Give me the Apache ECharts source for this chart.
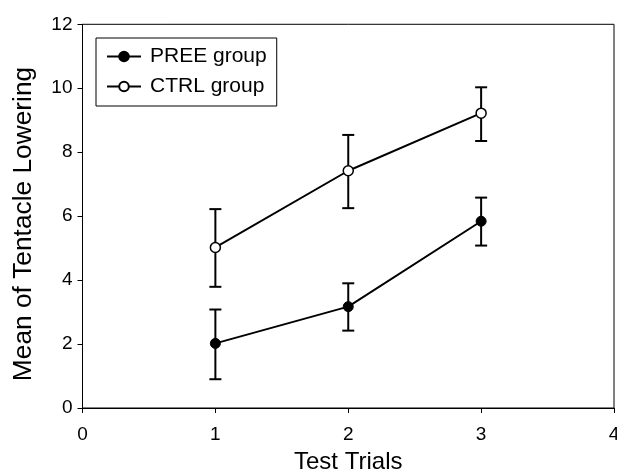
<!DOCTYPE html>
<html><head><meta charset="utf-8">
<script src="https://cdn.jsdelivr.net/npm/echarts@6/dist/echarts.min.js"></script>
<style>html,body{margin:0;padding:0;background:#fff}#c{width:617px;height:471px}</style>
</head><body><div id="c"></div>
<script>
const trials = [1, 2, 3];
const preeMean = [2.02, 3.17, 5.84];
const preeLower = [0.90, 2.42, 5.08];
const preeUpper = [3.08, 3.90, 6.58];
const ctrlMean = [5.02, 7.42, 9.22];
const ctrlLower = [3.79, 6.25, 8.35];
const ctrlUpper = [6.22, 8.54, 10.03];
const seriesNames = ['PREE group', 'CTRL group'];
const xTitle = 'Test Trials';
const yTitle = 'Mean of Tentacle Lowering';

const FONT = '"Liberation Sans", Arial, Helvetica, sans-serif';

function errData(lo, hi) { return trials.map((t, i) => [t, lo[i], hi[i]]); }
function errSeries(lo, hi) {
  return {
    type: 'custom', z: 1, silent: true,
    data: errData(lo, hi),
    encode: { x: 0, y: [1, 2] },
    renderItem: function (params, api) {
      const x = api.value(0);
      const p1 = api.coord([x, api.value(1)]);
      const p2 = api.coord([x, api.value(2)]);
      const w = 6;
      const st = { stroke: '#000', lineWidth: 2 };
      return { type: 'group', children: [
        { type: 'line', shape: { x1: p1[0], y1: p1[1], x2: p2[0], y2: p2[1] }, style: st },
        { type: 'line', shape: { x1: p1[0] - w, y1: p1[1], x2: p1[0] + w, y2: p1[1] }, style: st },
        { type: 'line', shape: { x1: p2[0] - w, y1: p2[1], x2: p2[0] + w, y2: p2[1] }, style: st }
      ]};
    }
  };
}

const chart = echarts.init(document.getElementById('c'), null, { renderer: 'canvas' });
chart.setOption({
  animation: false,
  backgroundColor: '#fff',
  textStyle: { fontFamily: FONT },
  grid: { left: 82.5, right: 3, top: 24.3, bottom: 63, containLabel: false, outerBoundsMode: 'none',
          show: true, borderColor: '#000', borderWidth: 1, backgroundColor: 'transparent' },
  legend: {
    orient: 'vertical', left: 96, top: 38,
    borderColor: '#000', borderWidth: 1, padding: [8, 10, 9, 10],
    itemWidth: 34, itemHeight: 12, itemGap: 9,
    textStyle: { fontSize: 21, color: '#000', fontFamily: FONT, padding: [0, 0, 0, 4] },
    data: seriesNames
  },
  xAxis: {
    type: 'value', min: 0, max: 4, interval: 1,
    name: xTitle, nameLocation: 'middle', nameGap: 42,
    nameTextStyle: { fontSize: 24, color: '#000', fontFamily: FONT },
    axisLine: { lineStyle: { color: '#000', width: 1 } },
    axisTick: { show: true, length: 5, lineStyle: { color: '#000' } },
    axisLabel: { fontSize: 19, color: '#000', margin: 17, fontFamily: FONT },
    splitLine: { show: false }
  },
  yAxis: {
    type: 'value', min: 0, max: 12, interval: 2,
    axisLine: { show: true, lineStyle: { color: '#000', width: 1 } },
    axisTick: { show: true, length: 5, lineStyle: { color: '#000' } },
    axisLabel: { fontSize: 19, color: '#000', margin: 10, fontFamily: FONT },
    splitLine: { show: false }
  },
  graphic: [{
    type: 'text', x: 24, y: 224, rotation: Math.PI / 2,
    style: { text: yTitle, font: '26.3px ' + FONT, fill: '#000', textAlign: 'center', textVerticalAlign: 'middle' }
  }],
  series: [
    errSeries(preeLower, preeUpper),
    errSeries(ctrlLower, ctrlUpper),
    {
      name: seriesNames[0], type: 'line', z: 3,
      data: trials.map((t, i) => [t, preeMean[i]]),
      symbol: 'circle', symbolSize: 10,
      itemStyle: { color: '#000', borderColor: '#000', borderWidth: 1 },
      lineStyle: { color: '#000', width: 2 }
    },
    {
      name: seriesNames[1], type: 'line', z: 3,
      data: trials.map((t, i) => [t, ctrlMean[i]]),
      symbol: 'circle', symbolSize: 10,
      itemStyle: { color: '#fff', borderColor: '#000', borderWidth: 1.5 },
      lineStyle: { color: '#000', width: 2 }
    }
  ]
});
</script>
</body></html>
